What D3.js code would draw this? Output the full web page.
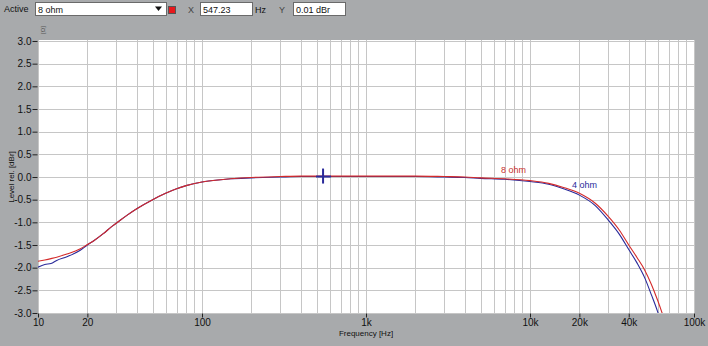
<!DOCTYPE html>
<html>
<head>
<meta charset="utf-8">
<script src="https://cdn.jsdelivr.net/npm/d3@7"></script>
<style>
  body { margin: 0; background: #a8aaac; }
  svg { display: block; font-family: "Liberation Sans", Arial, sans-serif; }
</style>
</head>
<body>
<svg id="chart" width="708" height="346"></svg>
<script>
// frequency points (Hz) shared by both traces
var freqs = [10, 11, 12, 13, 15, 18, 20, 22, 25, 28, 30, 35, 40, 50, 60, 70, 80, 100, 130, 150, 200, 300, 400, 500, 700,
             1000, 1500, 2000, 3000, 4000, 5000, 7000, 10000, 13000, 16000, 20000, 25000, 30000, 35000, 40000, 45000,
             50000, 55000, 60000, 65000, 70000];
// level rel. [dBr], 8 ohm load (red)
var level8 = [-1.86, -1.83, -1.80, -1.77, -1.70, -1.59, -1.49, -1.40, -1.25, -1.10, -1.02, -0.84, -0.70, -0.50, -0.36, -0.26,
              -0.19, -0.11, -0.06, -0.04, -0.01, 0.01, 0.02, 0.02, 0.02,
              0.02, 0.02, 0.02, 0.01, 0.0, -0.02, -0.04, -0.08, -0.14, -0.23, -0.36, -0.58, -0.87, -1.17, -1.50, -1.78,
              -2.05, -2.37, -2.72, -3.08, -3.45];
// level rel. [dBr], 4 ohm load (blue)
var level4 = [-1.99, -1.93, -1.91, -1.84, -1.76, -1.62, -1.50, -1.40, -1.25, -1.10, -1.02, -0.84, -0.70, -0.50, -0.36, -0.26,
              -0.19, -0.11, -0.06, -0.04, -0.02, 0.0, 0.01, 0.01, 0.01,
              0.01, 0.01, 0.01, 0.0, -0.01, -0.03, -0.05, -0.10, -0.16, -0.26, -0.40, -0.63, -0.95, -1.26, -1.60, -1.90,
              -2.22, -2.60, -2.97, -3.40, -3.80];

var xTickVals   = [10, 20, 100, 1000, 10000, 20000, 40000, 100000];
var xTickLabels = ["10", "20", "100", "1k", "10k", "20k", "40k", "100k"];
var yTickVals   = [3.0, 2.5, 2.0, 1.5, 1.0, 0.5, 0.0, -0.5, -1.0, -1.5, -2.0, -2.5, -3.0];

var cursorX = 547.23, cursorY = 0.01;

var svg = d3.select("#chart");

var plotL = 38, plotR = 694, plotT = 41, plotB = 313;

var x = d3.scaleLog().domain([10, 100000]).range([plotL, plotR]);
var y = d3.scaleLinear().domain([-3, 3]).range([plotB, plotT]);

// ---- toolbar ----
var bar = svg.append("g").attr("font-size", 9).attr("fill", "#111");
bar.append("text").attr("x", 4).attr("y", 12).text("Active");
function box(x0, w, label){
  bar.append("rect").attr("x", x0 + 0.5).attr("y", 2.5).attr("width", w).attr("height", 13)
    .attr("fill", "#fff").attr("stroke", "#6a6a6a");
  bar.append("text").attr("x", x0 + 3).attr("y", 12.5).text(label);
}
box(35, 131, "8 ohm");
bar.append("path").attr("d", "M155,6.5 L162,6.5 L158.5,11 Z").attr("fill", "#111");
bar.append("rect").attr("x", 168.5).attr("y", 6.5).attr("width", 7).attr("height", 7)
  .attr("fill", "#e8181c").attr("stroke", "#555");
bar.append("text").attr("x", 188).attr("y", 12.5).attr("fill", "#444").text("X");
box(200, 52, "547.23");
bar.append("text").attr("x", 255).attr("y", 12.5).text("Hz");
bar.append("text").attr("x", 279).attr("y", 12.5).attr("fill", "#444").text("Y");
box(293, 52, "0.01 dBr");

// ---- plot background ----
svg.append("rect").attr("x", plotL).attr("y", plotT - 1).attr("width", plotR - plotL + 1).attr("height", plotB - plotT + 1)
  .attr("fill", "#fff");

svg.append("defs").append("clipPath").attr("id", "clip")
  .append("rect").attr("x", plotL).attr("y", plotT - 1).attr("width", plotR - plotL + 1).attr("height", plotB - plotT + 1);

// grid
var minorFreqs = [];
[10, 100, 1000, 10000].forEach(function(d){
  for (var k = 1; k <= 9; k++) minorFreqs.push(d * k);
});
minorFreqs.push(100000);

var grid = svg.append("g").attr("stroke", "#c6c6c6").attr("stroke-width", 1);
grid.selectAll(".vg").data(minorFreqs).enter().append("line")
  .attr("x1", function(d){ return Math.round(x(d)) + 0.5; })
  .attr("x2", function(d){ return Math.round(x(d)) + 0.5; })
  .attr("y1", plotT - 1).attr("y2", plotB);
grid.selectAll(".hg").data(yTickVals).enter().append("line")
  .attr("y1", function(d){ return Math.round(y(d)) + 0.5; })
  .attr("y2", function(d){ return Math.round(y(d)) + 0.5; })
  .attr("x1", plotL).attr("x2", plotR + 1);

// ---- axes ----
var yAxis = d3.axisLeft(y).tickValues(yTickVals).tickSize(5).tickPadding(1)
  .tickFormat(function(d){ return d3.format(".1f")(d).replace("−", "-"); });
var gy = svg.append("g").attr("transform", "translate(" + (plotL - 0.5) + ",0)").call(yAxis);
gy.select(".domain").remove();
gy.selectAll("line").attr("stroke", "#222");
gy.selectAll("text").attr("font-size", 10).attr("fill", "#111");

var xAxis = d3.axisBottom(x).tickValues(xTickVals).tickSize(4).tickPadding(1)
  .tickFormat(function(d, i){ return xTickLabels[i]; });
var gx = svg.append("g").attr("transform", "translate(0," + (plotB + 0.5) + ")").call(xAxis);
gx.select(".domain").remove();
gx.selectAll("line").attr("stroke", "#222");
gx.selectAll("text").attr("font-size", 10).attr("fill", "#111");

svg.append("text").attr("x", (plotL + plotR) / 2).attr("y", 336).attr("text-anchor", "middle")
  .attr("font-size", 8).attr("fill", "#111").text("Frequency [Hz]");
svg.append("text").attr("transform", "translate(14," + y(0) + ") rotate(-90)").attr("text-anchor", "middle")
  .attr("font-size", 8).attr("fill", "#111").text("Level rel. [dBr]");
svg.append("text").attr("transform", "translate(45,30) rotate(-90)").attr("text-anchor", "middle")
  .attr("font-size", 6).attr("fill", "#555").text("[Ω]");

// ---- traces ----
var line = d3.line().curve(d3.curveMonotoneX)
  .x(function(d){ return x(d[0]); })
  .y(function(d){ return y(d[1]); });

var traces = svg.append("g").attr("clip-path", "url(#clip)").attr("fill", "none").attr("stroke-width", 1.1);
traces.append("path").attr("d", line(d3.zip(freqs, level4))).attr("stroke", "#2a2a9a");
traces.append("path").attr("d", line(d3.zip(freqs, level8))).attr("stroke", "#d42a2a");

svg.append("text").attr("x", 501).attr("y", 173).attr("font-size", 9).attr("fill", "#c83030").text("8 ohm");
svg.append("text").attr("x", 572).attr("y", 188).attr("font-size", 9).attr("fill", "#2a2a9a").text("4 ohm");

// cursor cross
var cx = x(cursorX), cy = y(cursorY);
var cross = svg.append("g").attr("stroke", "#2a2a9a").attr("stroke-width", 2);
cross.append("line").attr("x1", cx).attr("x2", cx).attr("y1", cy - 8).attr("y2", cy + 7);
cross.append("line").attr("x1", cx - 7).attr("x2", cx + 8).attr("y1", cy).attr("y2", cy);
</script>
</body>
</html>
